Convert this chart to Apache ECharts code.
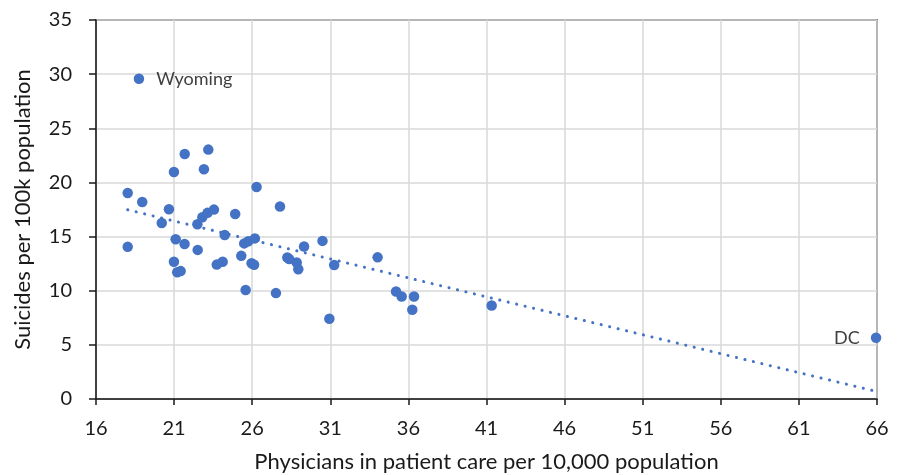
<!DOCTYPE html>
<html>
<head>
<meta charset="utf-8">
<script src="https://cdn.jsdelivr.net/npm/echarts@6/dist/echarts.min.js"></script>
<style>
  html, body { margin: 0; padding: 0; background: #fff; }
  #chart { width: 899px; height: 475px; }
</style>
</head>
<body>
<div id="chart"></div>
<script>
// Physicians in patient care per 10,000 population vs. suicides per 100k population, by state
const physicians = [
  18.75, 18.03, 18.96, 20.67, 20.21, 18.03, 20.99, 21.68, 23.19, 22.91,
  26.28, 27.78, 24.91, 22.49, 22.81, 23.14, 23.55, 24.24, 21.10, 21.67,
  22.51, 20.99, 21.20, 21.42, 23.73, 24.11, 25.30, 25.49, 25.75, 26.17,
  25.96, 26.12, 25.58, 27.52, 28.25, 28.37, 28.85, 28.95, 29.32, 30.50,
  31.25, 30.94, 34.03, 35.21, 35.57, 36.36, 36.25, 41.33, 65.94
];
const suicides = [
  29.57, 19.03, 18.20, 17.53, 16.26, 14.05, 20.97, 22.63, 23.03, 21.22,
  19.58, 17.77, 17.08, 16.14, 16.79, 17.19, 17.49, 15.14, 14.76, 14.31,
  13.77, 12.67, 11.70, 11.81, 12.41, 12.67, 13.22, 14.37, 14.56, 14.83,
  12.53, 12.39, 10.06, 9.78, 13.06, 12.92, 12.60, 11.99, 14.08, 14.60,
  12.37, 7.41, 13.08, 9.93, 9.47, 9.47, 8.24, 8.63, 5.65
];
// Only two points carry a name label
const pointNames = {0: 'Wyoming', 48: 'DC'};

const xTicks = [16, 21, 26, 31, 36, 41, 46, 51, 56, 61, 66];
const yTicks = [0, 5, 10, 15, 20, 25, 30, 35];

// Least-squares linear trend over all points
function linearFit(xs, ys) {
  const n = xs.length;
  let sx = 0, sy = 0, sxx = 0, sxy = 0;
  for (let i = 0; i < n; i++) {
    sx += xs[i]; sy += ys[i]; sxx += xs[i] * xs[i]; sxy += xs[i] * ys[i];
  }
  const slope = (n * sxy - sx * sy) / (n * sxx - sx * sx);
  const intercept = (sy - slope * sx) / n;
  return { slope, intercept };
}
const fit = linearFit(physicians, suicides);
const xMinData = Math.min(...physicians);
const xMaxData = Math.max(...physicians);
const trend = [
  [xMinData, fit.intercept + fit.slope * xMinData],
  [xMaxData, fit.intercept + fit.slope * xMaxData]
];

const FONT = 'Lato';
const points = physicians.map((x, i) => ({
  value: [x, suicides[i]],
  name: pointNames[i] || '',
  label: pointNames[i] ? {
    show: true,
    formatter: pointNames[i],
    position: i === 0 ? 'right' : 'left',
    distance: i === 0 ? 12 : 11,
    color: '#404040',
    fontSize: 18,
    fontFamily: FONT
  } : { show: false }
}));

const chart = echarts.init(document.getElementById('chart'), null, { renderer: 'canvas' });
chart.setOption({
  animation: false,
  backgroundColor: '#fff',
  grid: {
    left: 96, right: 22, top: 20, bottom: 76,
    containLabel: false, outerBoundsMode: 'none',
    show: true, borderColor: '#1a1a1a', borderWidth: 1.5, backgroundColor: 'transparent'
  },
  xAxis: {
    type: 'value',
    min: xTicks[0], max: xTicks[xTicks.length - 1], interval: 5,
    name: 'Physicians in patient care per 10,000 population',
    nameLocation: 'middle', nameGap: 52,
    nameTextStyle: { fontFamily: FONT, fontSize: 22, color: '#1a1a1a' },
    axisLine: { show: true, lineStyle: { color: '#1a1a1a', width: 1.5 } },
    axisTick: { show: true, length: 6, lineStyle: { color: '#1a1a1a', width: 1.5 } },
    axisLabel: { fontFamily: FONT, fontSize: 20, color: '#1a1a1a', margin: 20 },
    splitLine: { show: true, lineStyle: { color: '#d9d9d9', width: 1.5 } }
  },
  yAxis: {
    type: 'value',
    min: yTicks[0], max: yTicks[yTicks.length - 1], interval: 5,
    name: 'Suicides per 100k population',
    nameLocation: 'middle', nameGap: 62,
    nameTextStyle: { fontFamily: FONT, fontSize: 22, color: '#1a1a1a' },
    axisLine: { show: true, lineStyle: { color: '#1a1a1a', width: 1.5 } },
    axisTick: { show: true, length: 7, lineStyle: { color: '#1a1a1a', width: 1.5 } },
    axisLabel: { fontFamily: FONT, fontSize: 20, color: '#1a1a1a', margin: 24 },
    splitLine: { show: true, lineStyle: { color: '#d9d9d9', width: 1.5 } }
  },
  series: [
    {
      type: 'line',
      data: trend,
      symbol: 'none',
      silent: true,
      lineStyle: { color: '#4472C4', width: 3, type: [0.1, 8.6], cap: 'round' },
      z: 1
    },
    {
      type: 'scatter',
      data: points,
      symbol: 'circle',
      symbolSize: 10.5,
      itemStyle: { color: '#4472C4', opacity: 1 },
      z: 2
    }
  ]
});
</script>
</body>
</html>
